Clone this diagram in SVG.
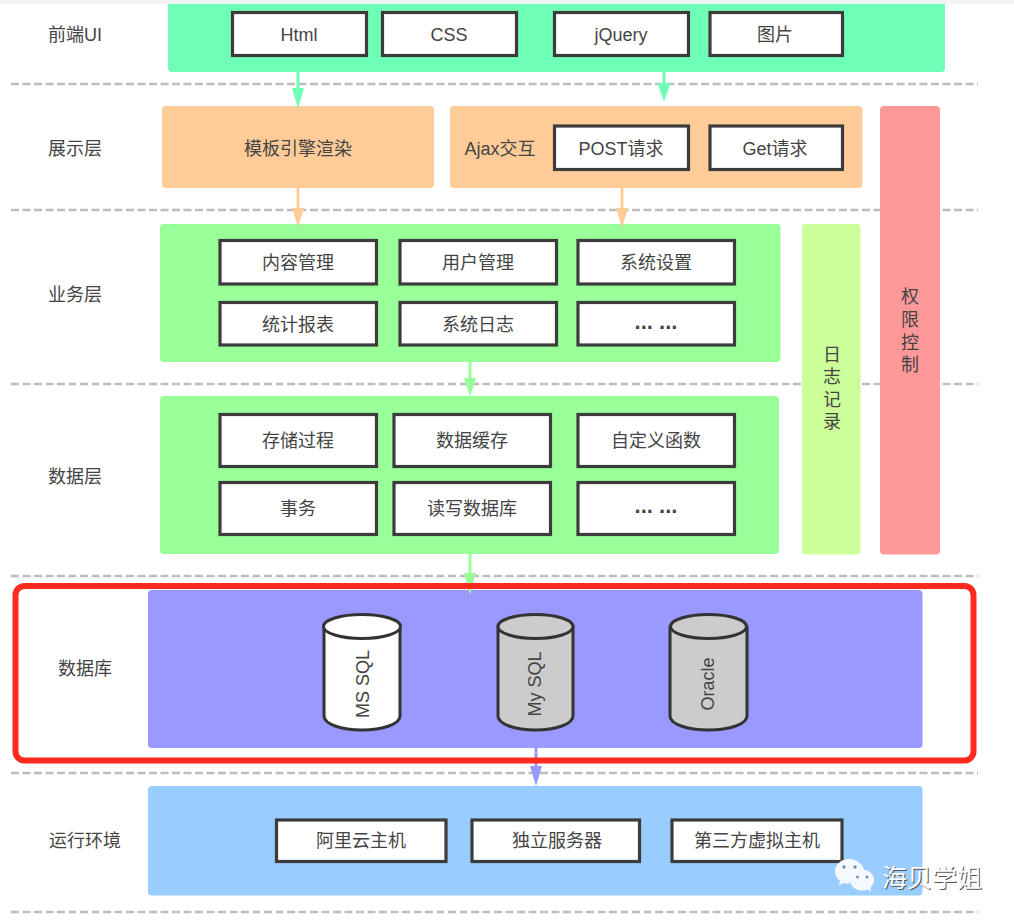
<svg xmlns="http://www.w3.org/2000/svg" width="1014" height="922" viewBox="0 0 1014 922">
<style>
text{font-family:"Liberation Sans","Noto Sans CJK SC",sans-serif;font-size:18px;fill:#444;text-anchor:middle;dominant-baseline:central}
.b{fill:#fff;stroke:#3c3c3c;stroke-width:3.2}
.d{stroke:#bdbdbd;stroke-width:2.6;stroke-dasharray:8 3.5;fill:none}
.c{stroke:#333;stroke-width:3}
.g{fill:#ccc}
.w{fill:#fff}
.e{font-size:22px;font-weight:bold}
</style>
<rect width="1014" height="922" fill="#fff"/>
<rect width="1014" height="4" fill="#f3f4f6"/>
<g id="separators">
<path class="d" d="M11 84H978M11 210H978M11 384H978M11 576H978M11 773H978M11 912H978"/>
</g>
<g id="panels">
<path id="panel-ui" d="M168 4H945V68a4 4 0 0 1-4 4H172a4 4 0 0 1-4-4Z" fill="#6fffb7"/>
<rect id="panel-pres-a" x="162" y="106" width="272" height="82" rx="4" fill="#ffcc99"/>
<rect id="panel-pres-b" x="450" y="106" width="412.500" height="82" rx="4" fill="#ffcc99"/>
<rect id="panel-biz" x="160" y="224" width="620.500" height="138" rx="4" fill="#99ff99"/>
<rect id="panel-data" x="160" y="396" width="619" height="158" rx="4" fill="#99ff99"/>
<rect id="panel-db" x="148" y="590" width="774.500" height="158" rx="4" fill="#9999ff"/>
<rect id="panel-env" x="148" y="786" width="774.500" height="109.500" rx="4" fill="#99ccff"/>
</g>
<g id="connectors" fill="none" stroke-width="3">
<path d="M298 72V92" stroke="#6fffb7"/><path d="M292 88H304L298 108Z" fill="#6fffb7"/>
<path d="M664 72V88" stroke="#6fffb7"/><path d="M657.500 83H670.500L664 102Z" fill="#6fffb7"/>
<path d="M298 188V212" stroke="#ffcc99"/><path d="M292 208H304L298 227Z" fill="#ffcc99"/>
<path d="M622 188V212" stroke="#ffcc99"/><path d="M616 208H628L622 228Z" fill="#ffcc99"/>
<path d="M470 362V382" stroke="#99ff99"/><path d="M464 378H476L470 397Z" fill="#99ff99"/>
<path d="M470 554V576" stroke="#99ff99"/><path d="M464 573H476L470 595Z" fill="#99ff99"/>
<path d="M536 748V772" stroke="#9999ff"/><path d="M530 766H542L536 786Z" fill="#9999ff"/>
</g>
<g id="frame"><rect x="15.500" y="586" width="958" height="174.500" rx="9" fill="none" stroke="#ff2a20" stroke-width="6"/></g>
<g id="label-ui"><text x="75" y="35">前端UI</text></g>
<g id="label-pres"><text x="75" y="149">展示层</text></g>
<g id="label-biz"><text x="75" y="295">业务层</text></g>
<g id="label-data"><text x="75" y="477">数据层</text></g>
<g id="label-db"><text x="85" y="669">数据库</text></g>
<g id="label-env"><text x="85" y="841">运行环境</text></g>
<g id="n-html"><rect class="b" x="232.500" y="12.500" width="134" height="43"/><text x="299" y="35">Html</text></g>
<g id="n-css"><rect class="b" x="382.500" y="12.500" width="134" height="43"/><text x="449" y="35">CSS</text></g>
<g id="n-jquery"><rect class="b" x="554.500" y="12.500" width="134" height="43"/><text x="621" y="35">jQuery</text></g>
<g id="n-img"><rect class="b" x="710" y="12.500" width="132.500" height="43"/><text x="775" y="35">图片</text></g>
<g id="n-tpl"><text x="298" y="149">模板引擎渲染</text></g>
<g id="n-ajax"><text x="500" y="149">Ajax交互</text></g>
<g id="n-post"><rect class="b" x="554.500" y="126" width="134" height="43.500"/><text x="621" y="149">POST请求</text></g>
<g id="n-get"><rect class="b" x="710" y="126" width="132.500" height="43.500"/><text x="775" y="149">Get请求</text></g>
<g id="n-perm"><rect x="880" y="106" width="60" height="448.500" rx="4" fill="#ff9999"/><text x="910" y="297">权</text><text x="910" y="320">限</text><text x="910" y="343">控</text><text x="910" y="365">制</text></g>
<g id="n-log"><rect x="802" y="224" width="58.500" height="330.500" rx="4" fill="#ccff99"/><text x="832" y="355">日</text><text x="832" y="377">志</text><text x="832" y="400">记</text><text x="832" y="422">录</text></g>
<g id="n-content"><rect class="b" x="220" y="240.500" width="156.500" height="43.500"/><text x="298" y="263">内容管理</text></g>
<g id="n-user"><rect class="b" x="400" y="240.500" width="156.500" height="43.500"/><text x="478" y="263">用户管理</text></g>
<g id="n-sys"><rect class="b" x="578" y="240.500" width="156.500" height="43.500"/><text x="656" y="263">系统设置</text></g>
<g id="n-stat"><rect class="b" x="220" y="302.500" width="156.500" height="42.500"/><text x="298" y="325">统计报表</text></g>
<g id="n-syslog"><rect class="b" x="400" y="302.500" width="156.500" height="42.500"/><text x="478" y="325">系统日志</text></g>
<g id="n-more1"><rect class="b" x="578" y="302.500" width="156.500" height="42.500"/><text class="e" x="656" y="321">... ...</text></g>
<g id="n-proc"><rect class="b" x="220" y="414.500" width="156.500" height="52"/><text x="298" y="441">存储过程</text></g>
<g id="n-cache"><rect class="b" x="394" y="414.500" width="156.500" height="52"/><text x="472" y="441">数据缓存</text></g>
<g id="n-func"><rect class="b" x="578" y="414.500" width="156.500" height="52"/><text x="656" y="441">自定义函数</text></g>
<g id="n-tx"><rect class="b" x="220" y="482.500" width="156.500" height="52"/><text x="298" y="509">事务</text></g>
<g id="n-rw"><rect class="b" x="394" y="482.500" width="156.500" height="52"/><text x="472" y="509">读写数据库</text></g>
<g id="n-more2"><rect class="b" x="578" y="482.500" width="156.500" height="52"/><text class="e" x="656" y="505">... ...</text></g>
<g id="n-mssql"><path class="c w" d="M324 626V716C324 724 341 730 362 730S400 724 400 716V626"/><ellipse class="c w" cx="362" cy="626.500" rx="38.500" ry="12"/><text transform="translate(363 684) rotate(-90)">MS SQL</text></g>
<g id="n-mysql"><path class="c g" d="M498 626V716C498 724 515 730 535.500 730S573 724 573 716V626"/><ellipse class="c g" cx="535.500" cy="626.500" rx="37.500" ry="12"/><text transform="translate(535 684) rotate(-90)">My SQL</text></g>
<g id="n-oracle"><path class="c g" d="M670 626V716C670 724 687 730 708.500 730S747 724 747 716V626"/><ellipse class="c g" cx="708.500" cy="626.500" rx="38" ry="12"/><text transform="translate(708 684) rotate(-90)">Oracle</text></g>
<g id="n-ali"><rect class="b" x="276.500" y="820" width="169.500" height="41.500"/><text x="361" y="841">阿里云主机</text></g>
<g id="n-ind"><rect class="b" x="472" y="820" width="167.500" height="41.500"/><text x="557" y="841">独立服务器</text></g>
<g id="n-vm"><rect class="b" x="672" y="820" width="170" height="41.500"/><text x="757" y="841">第三方虚拟主机</text></g>
<g id="watermark">
<path d="M849 859c-8 0-14 5.500-14 12.500 0 4 2 7 5 9.500l-1.500 4.500 5.500-2.500c1.500.5 3 .7 5 .8 4-10 10-12 15.500-12.500-1.500-7-8-12.300-15.500-12.300Z" fill="#f5f8fd"/>
<ellipse cx="862" cy="880" rx="12" ry="10.500" fill="#f5f8fd"/><path d="M866 888l5 4-1-6Z" fill="#f5f8fd"/>
<g fill="#6f93b8"><circle cx="844" cy="867" r="1.700"/><circle cx="855" cy="867" r="1.700"/><circle cx="857.500" cy="877" r="1.500"/><circle cx="867" cy="877" r="1.500"/></g>
<text x="932" y="878" style="font-size:25px;fill:#555" dx="1" dy="1">海贝学姐</text>
<text x="932" y="878" style="font-size:25px;fill:#fff">海贝学姐</text>
</g>
</svg>
